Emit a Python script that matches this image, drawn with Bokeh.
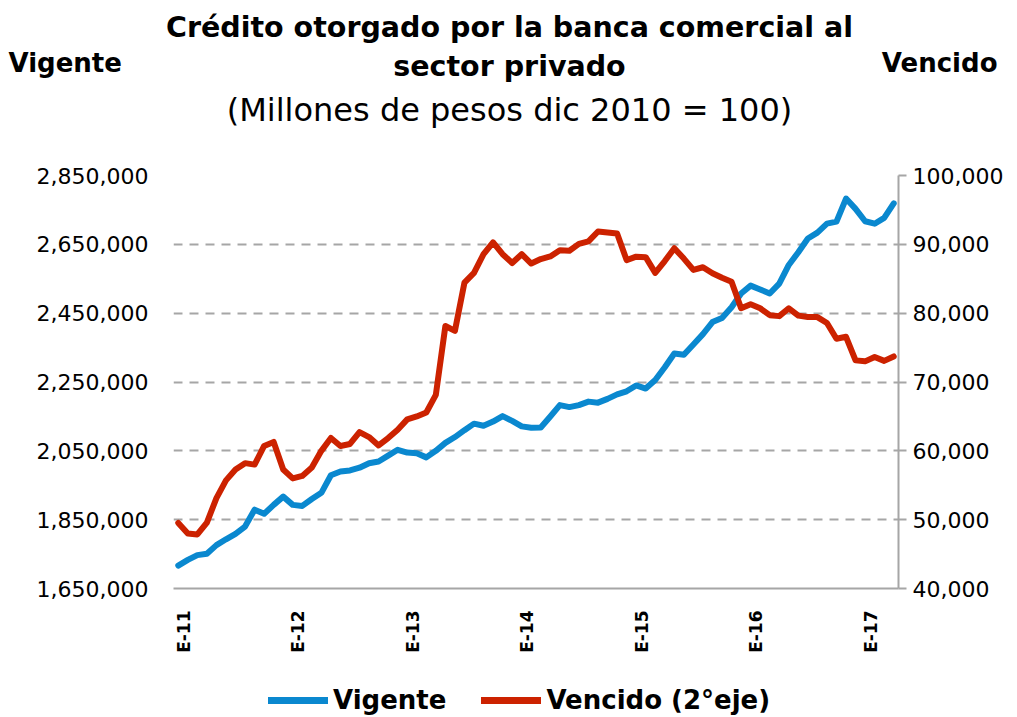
import math
from bokeh.plotting import figure
from bokeh.layouts import column
from bokeh.models import (Range1d, LinearAxis, FixedTicker, NumeralTickFormatter,
                          Label, Legend, LegendItem, ColumnDataSource)
from bokeh.embed import file_html
from bokeh.resources import INLINE

# ---------------- data ----------------
# monthly, Jan 2011 .. Apr 2017
month_index = list(range(76))
vigente = [1716600, 1733000, 1747000, 1751000, 1776000, 1793000, 1809000, 1830000,
           1879000, 1867000, 1893000, 1917000, 1893000, 1890000, 1910000, 1928000,
           1979000, 1990000, 1993000, 2001000, 2014000, 2019000, 2036000, 2053000,
           2045000, 2043000, 2031000, 2050000, 2073000, 2090000, 2110000, 2129000,
           2123000, 2135000, 2151000, 2137000, 2121000, 2117000, 2118000, 2150000,
           2183000, 2177000, 2183000, 2193000, 2190000, 2201000, 2214000, 2223000,
           2240000, 2231000, 2256000, 2293000, 2333000, 2329000, 2359000, 2389000,
           2424000, 2436000, 2467000, 2507000, 2530000, 2519000, 2507000, 2536000,
           2590000, 2627000, 2667000, 2684000, 2710000, 2716000, 2783000, 2753000,
           2717000, 2710000, 2727000, 2769000]
vencido = [49530, 48000, 47860, 49570, 53140, 55710, 57290, 58210,
           58000, 60710, 61290, 57290, 56000, 56360, 57570, 60000,
           61860, 60710, 61000, 62710, 62000, 60790, 61860, 63070,
           64570, 65000, 65570, 68140, 78140, 77430, 84430, 85860,
           88570, 90290, 88570, 87290, 88570, 87210, 87860, 88240,
           89140, 89070, 90070, 90430, 91860, 91710, 91570, 87710,
           88210, 88140, 85860, 87570, 89430, 87930, 86290, 86670,
           85790, 85140, 84570, 80710, 81290, 80710, 79710, 79570,
           80710, 79640, 79430, 79430, 78570, 76290, 76570, 73140,
           73000, 73640, 73070, 73710]
x_tick_pos = [0, 12, 24, 36, 48, 60, 72]
x_tick_labels = ["E-11", "E-12", "E-13", "E-14", "E-15", "E-16", "E-17"]
left_ticks = [1650000, 1850000, 2050000, 2250000, 2450000, 2650000, 2850000]
right_ticks = [40000, 50000, 60000, 70000, 80000, 90000, 100000]

title_1 = "Crédito otorgado por la banca comercial al"
title_2 = "sector privado"
subtitle = "(Millones de pesos dic 2010 = 100)"
left_name = "Vigente"
right_name = "Vencido"
legend_labels = ["Vigente", "Vencido (2°eje)"]

BLUE = "#0A88CF"
RED = "#CC2200"
GRID = "#A6A6A6"
FONT = "DejaVu Sans"
W = 1017
HEAD_H = 150
MAIN_H = 505
FOOT_H = 717 - HEAD_H - MAIN_H
LABEL_SHIFT = 0.6  # visual nudge of the rotated month labels


def bare_figure(h):
    f = figure(width=W, height=h, output_backend="svg", toolbar_location=None,
               x_range=Range1d(0, W), y_range=Range1d(h, 0),
               x_axis_type=None, y_axis_type=None,
               min_border_left=0, min_border_right=0, min_border_top=0, min_border_bottom=0)
    f.outline_line_color = None
    f.xgrid.visible = False
    f.ygrid.visible = False
    return f


# ---------------- header (titles) ----------------
head = bare_figure(HEAD_H)


def add_text(fig, txt, x, y, size, bold=True, align="center"):
    fig.add_layout(Label(x=x, y=y, text=txt, text_font=FONT, text_font_size=size,
                         text_font_style="bold" if bold else "normal",
                         text_align=align, text_baseline="middle", text_color="black"))


add_text(head, title_1, 509, 27, "28.5px")
add_text(head, title_2, 509, 66, "28.5px")
add_text(head, subtitle, 509, 109, "32px", bold=False)
add_text(head, left_name, 8, 62, "26px", align="left")
add_text(head, right_name, 997, 62, "26px", align="right")

# ---------------- main chart ----------------
p = figure(width=W, height=MAIN_H, output_backend="svg", toolbar_location=None,
           x_range=Range1d(-0.5, 75.5),
           y_range=Range1d(left_ticks[0], left_ticks[-1]),
           min_border_left=173, min_border_right=119,
           min_border_top=175 - HEAD_H, min_border_bottom=MAIN_H - (595 - HEAD_H))
p.outline_line_color = None
p.extra_y_ranges = {"right": Range1d(right_ticks[0], right_ticks[-1])}

src = ColumnDataSource(dict(x=month_index, v=vigente, r=vencido))
l1 = p.line("x", "v", source=src, line_width=6, line_color=BLUE,
            line_join="round", line_cap="round")
l2 = p.line("x", "r", source=src, y_range_name="right", line_width=6,
            line_color=RED, line_join="round", line_cap="round")

# x axis
shifted = [t + LABEL_SHIFT for t in x_tick_pos]
xa = p.xaxis[0]
xa.ticker = FixedTicker(ticks=shifted)
xa.major_label_overrides = {t: s for t, s in zip(shifted, x_tick_labels)}
xa.major_label_orientation = math.pi / 2
xa.major_label_text_font = FONT
xa.major_label_text_font_style = "bold"
xa.major_label_text_font_size = "17px"
xa.major_label_text_color = "black"
xa.major_label_standoff = 16
xa.major_tick_line_color = None
xa.minor_tick_line_color = None
xa.axis_line_color = GRID
xa.axis_line_width = 2

# left axis
ya = p.yaxis[0]
ya.ticker = FixedTicker(ticks=left_ticks)
ya.formatter = NumeralTickFormatter(format="0,0")
ya.major_label_text_font = FONT
ya.major_label_text_font_size = "22px"
ya.major_label_text_color = "black"
ya.major_label_standoff = 19
ya.axis_line_color = None
ya.major_tick_line_color = None
ya.minor_tick_line_color = None

# right axis
ra = LinearAxis(y_range_name="right", ticker=FixedTicker(ticks=right_ticks),
                formatter=NumeralTickFormatter(format="0,0"))
ra.major_label_text_font = FONT
ra.major_label_text_font_size = "22px"
ra.major_label_text_color = "black"
ra.major_label_standoff = 6
ra.axis_line_color = GRID
ra.axis_line_width = 2
ra.major_tick_line_color = GRID
ra.major_tick_line_width = 2
ra.major_tick_in = 0
ra.major_tick_out = 8
ra.minor_tick_line_color = None
p.add_layout(ra, "right")

# grid
p.xgrid.visible = False
p.ygrid.ticker = FixedTicker(ticks=left_ticks)
p.ygrid.grid_line_color = GRID
p.ygrid.grid_line_width = 2
p.ygrid.grid_line_dash = "9 7"

# ---------------- footer (legend) ----------------
# the footer holds the same two series (outside its visible area) so the
# legend can sit below the x-axis labels, as in the original
foot = bare_figure(FOOT_H)
k1 = foot.line("x", "v", source=src, line_width=7, line_color=BLUE, line_cap="round")
k2 = foot.line("x", "r", source=src, line_width=7, line_color=RED, line_cap="round")
legend = Legend(items=[LegendItem(label=legend_labels[0], renderers=[k1]),
                       LegendItem(label=legend_labels[1], renderers=[k2])],
                orientation="horizontal", location=(268, 2))
legend.label_text_font = FONT
legend.label_text_font_style = "bold"
legend.label_text_font_size = "26px"
legend.label_text_color = "black"
legend.glyph_width = 60
legend.glyph_height = 30
legend.label_height = 30
legend.label_standoff = 5
legend.spacing = 35
legend.padding = 0
legend.margin = 0
legend.border_line_color = None
legend.background_fill_alpha = 0
foot.add_layout(legend, "center")

for fig in (head, p, foot):
    if hasattr(fig, "frame_align"):
        fig.frame_align = False

layout = column(head, p, foot, spacing=0)
open("out.html", "w").write(file_html(layout, INLINE))
